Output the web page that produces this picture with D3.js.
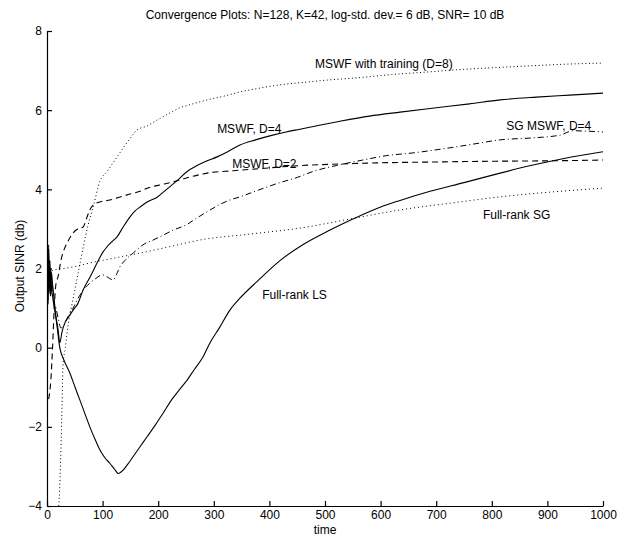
<!DOCTYPE html>
<html>
<head>
<meta charset="utf-8">
<script src="https://cdn.jsdelivr.net/npm/d3@7"></script>
<style>
  html, body { margin: 0; padding: 0; background: #fff; }
  svg { display: block; }
  text { font-family: "Liberation Sans", Arial, Helvetica, sans-serif; fill: #000; }
</style>
</head>
<body>
<svg id="chart" width="626" height="538"></svg>
<script>
// ---- data ----
const titleText = "Convergence Plots: N=128, K=42, log-std. dev.= 6 dB, SNR= 10 dB";
const xTicks = [0, 100, 200, 300, 400, 500, 600, 700, 800, 900, 1000];
const yTicks = [-4, -2, 0, 2, 4, 6, 8];

const lsTime = [0,1,2,3,4,5,6,7,8,10,12,15,18,23,30,41,50,59,68,77,86,95,104,113,122,128,135,145,155,167,180,195,209,225,240,252,265,280,293,310,329,347,380,419,460,509,550,599,635,689,750,815,870,930,1000];
const lsSinr = [1.3,2.0,1.1,2.5,1.4,2.2,1.6,2.0,1.5,1.3,1.1,0.85,0.55,0.0,-0.3,-0.64,-0.98,-1.32,-1.66,-2.0,-2.3,-2.58,-2.78,-2.92,-3.08,-3.18,-3.12,-2.95,-2.75,-2.51,-2.25,-1.95,-1.65,-1.3,-1.03,-0.82,-0.55,-0.25,0.12,0.5,0.95,1.25,1.7,2.2,2.6,2.97,3.25,3.55,3.72,3.95,4.17,4.41,4.6,4.78,4.95];

const d4Time = [0,1,2,3,4,5,6,8,10,13,16,20,23,27,32,40,47,55,65,78,90,100,108,117,126,137,149,158,167,180,198,215,234,252,270,288,306,325,347,375,406,430,455,490,527,580,635,700,760,815,880,940,1000];
const d4Sinr = [1.0,2.3,1.2,2.6,1.5,2.2,1.3,1.9,1.6,1.2,0.8,0.45,0.12,0.4,0.62,0.8,0.95,1.1,1.46,1.8,2.14,2.4,2.55,2.68,2.8,3.05,3.3,3.45,3.55,3.68,3.8,4.0,4.22,4.45,4.6,4.72,4.82,4.95,5.12,5.25,5.37,5.45,5.52,5.62,5.72,5.85,5.95,6.06,6.16,6.26,6.33,6.38,6.43];

const d8Time = [21,22,25,27,29,33,36,40,45,52,59,66,74,83,95,108,126,145,162,180,198,220,239,260,288,320,347,380,419,460,504,560,620,680,737,800,870,930,1000];
const d8Sinr = [-4.0,-3.8,-2.6,-1.5,-0.4,0.0,0.37,0.75,1.1,1.6,2.1,2.6,3.1,3.55,4.2,4.45,4.82,5.2,5.5,5.6,5.75,5.92,6.06,6.15,6.26,6.36,6.46,6.55,6.64,6.7,6.76,6.82,6.9,6.96,7.02,7.07,7.12,7.16,7.19];

const d2Time = [3,7,10,13,16,20,25,30,36,47,55,65,72,77,83,90,100,113,130,144,167,180,200,227,257,288,335,380,455,527,600,694,800,900,1000];
const d2Sinr = [-1.3,-0.8,0.0,1.0,1.6,1.8,2.2,2.45,2.64,2.9,3.0,3.05,3.3,3.48,3.6,3.66,3.7,3.73,3.8,3.86,3.95,4.03,4.1,4.19,4.31,4.41,4.47,4.52,4.6,4.64,4.67,4.69,4.71,4.72,4.74];

const sgd4Time = [0,3,6,9,12,16,20,25,30,35,40,47,54,65,77,88,99,109,119,125,131,140,155,175,191,210,227,250,270,290,311,329,347,380,419,450,478,520,568,610,658,725,770,815,874,923,946,970,1000];
const sgd4Sinr = [1.0,1.8,1.3,1.6,1.2,1.0,0.75,0.5,0.55,0.7,0.85,1.0,1.2,1.45,1.63,1.75,1.84,1.78,1.71,1.85,2.04,2.2,2.39,2.62,2.72,2.85,2.97,3.1,3.28,3.45,3.62,3.73,3.81,3.98,4.17,4.3,4.45,4.6,4.74,4.85,4.92,5.05,5.15,5.25,5.3,5.37,5.48,5.47,5.45];

const sgTime = [5,11,30,50,77,120,167,220,275,365,455,545,635,725,815,905,1000];
const sgSinr = [1.85,1.96,2.0,2.05,2.14,2.26,2.39,2.55,2.72,2.87,3.02,3.25,3.48,3.65,3.81,3.93,4.03];

const labelText = ["MSWF with training (D=8)", "MSWF, D=4", "SG MSWF, D=4", "MSWF, D=2", "Full-rank SG", "Full-rank LS"];
const labelTime = [482, 306, 826, 333, 784, 387];
const labelSinr = [7.07, 5.42, 5.5, 4.54, 3.25, 1.23];

// ---- layout ----
const svg = d3.select("#chart");
const x = d3.scaleLinear().domain([0, 1000]).range([47, 603]);
const y = d3.scaleLinear().domain([-4, 8]).range([506, 31]);

svg.append("defs").append("clipPath").attr("id", "plotclip")
  .append("rect").attr("x", 47).attr("y", 31).attr("width", 556).attr("height", 475);

const series = [
  { t: d8Time, v: d8Sinr, dash: "1,2.6", w: 1 },
  { t: d4Time, v: d4Sinr, dash: null, w: 1.1 },
  { t: sgd4Time, v: sgd4Sinr, dash: "6,3,1,3", w: 1 },
  { t: d2Time, v: d2Sinr, dash: "6,4", w: 1.1 },
  { t: sgTime, v: sgSinr, dash: "1,3", w: 1 },
  { t: lsTime, v: lsSinr, dash: null, w: 1.1 }
];

const line = d3.line()
  .x(d => x(d[0]))
  .y(d => y(d[1]))
  .curve(d3.curveMonotoneX);

const g = svg.append("g").attr("clip-path", "url(#plotclip)");
series.forEach(s => {
  const pts = s.t.map((t, i) => [t, s.v[i]]);
  g.append("path")
    .attr("d", line(pts))
    .attr("fill", "none")
    .attr("stroke", "#000")
    .attr("stroke-width", s.w)
    .attr("stroke-dasharray", s.dash);
});

// axes
const xAxis = d3.axisBottom(x).tickValues(xTicks).tickSizeInner(-5).tickSizeOuter(0).tickPadding(4)
  .tickFormat(d3.format("d"));
const yAxis = d3.axisLeft(y).tickValues(yTicks).tickSizeInner(-5).tickSizeOuter(0).tickPadding(5)
  .tickFormat(d3.format("d"));

const gx = svg.append("g").attr("transform", "translate(0,506)").call(xAxis);
const gy = svg.append("g").attr("transform", "translate(47,0)").call(yAxis);
[gx, gy].forEach(a => {
  a.selectAll("text").style("font-size", "12px").style("font-family", "'Liberation Sans', Arial, sans-serif").attr("fill", "#000");
  a.selectAll("path, line").attr("stroke", "#000").attr("stroke-width", 1.2);
  a.attr("font-size", null);
});

// title and axis labels
svg.append("text").attr("x", 325).attr("y", 19).attr("text-anchor", "middle")
  .style("font-size", "12px").text(titleText);
svg.append("text").attr("x", 325).attr("y", 534).attr("text-anchor", "middle")
  .style("font-size", "12px").text("time");
svg.append("text").attr("transform", "translate(24,266) rotate(-90)").attr("text-anchor", "middle")
  .style("font-size", "12px").text("Output SINR (db)");

// curve labels
labelText.forEach((txt, i) => {
  svg.append("text").attr("x", x(labelTime[i])).attr("y", y(labelSinr[i]))
    .style("font-size", "12px").text(txt);
});
</script>
</body>
</html>
